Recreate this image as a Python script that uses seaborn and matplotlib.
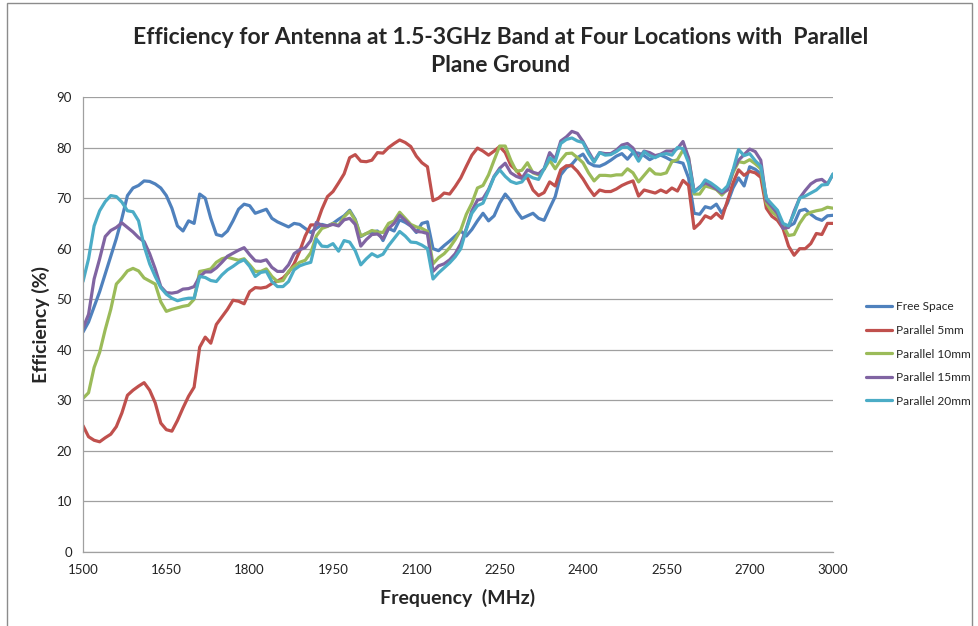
import numpy as np
import pandas as pd
import matplotlib
matplotlib.use("Agg")
import matplotlib.pyplot as plt
import seaborn as sns
from matplotlib.patches import Rectangle

# category axis: 136 sample points, labelled every 15th point
freq = list(range(1500, 2860, 10))
tick_labels = ["1500", "1650", "1800", "1950", "2100", "2250", "2400", "2550", "2700", "3000"]

series_names = ["Free Space", "Parallel 5mm", "Parallel 10mm", "Parallel 15mm", "Parallel 20mm"]

free_space = [43.5, 45.5, 48.5, 51.5, 55, 58.5, 62, 66, 70.5, 72,
              72.5, 73.4, 73.3, 72.8, 72, 70.5, 68, 64.5, 63.5, 65.5,
              65, 70.8, 70, 66, 62.8, 62.5, 63.5, 65.5, 67.8, 68.8,
              68.5, 67, 67.4, 67.8, 66, 65.3, 64.8, 64.3, 65, 64.8,
              64, 63.2, 64, 64.8, 64.5, 65, 65.8, 66.5, 67.6, 65.8,
              62.4, 63, 63.3, 63.5, 61.6, 64, 63.5, 65.7, 65.2, 64.5,
              63.2, 65, 65.3, 60, 59.6, 60.6, 61.5, 62.5, 63.5, 62.5,
              63.8, 65.5, 67, 65.5, 66.5, 69, 70.8, 69.5, 67.5, 66,
              66.5, 67, 66, 65.6, 68, 70.3, 74.6, 76, 76.7, 78,
              78.7, 77, 76.4, 76.3, 76.8, 77.5, 78.3, 78.8, 77.7, 79,
              78.9, 78.4, 77.6, 78.2, 78.5, 78, 77.4, 77.2, 76.9, 74,
              67, 66.8, 68.3, 68, 68.8, 67, 69, 72, 74, 72.4,
              76.2, 75.7, 74.8, 70, 68.3, 67, 64.5, 64.4, 65, 67.5,
              67.8, 66.8, 66, 65.6, 66.5, 66.6]

parallel_5 = [25, 22.8, 22.1, 21.8, 22.6, 23.3, 24.8, 27.5, 31, 32,
              32.8, 33.5, 32, 29.5, 25.5, 24.2, 23.9, 26, 28.5, 30.8,
              32.6, 40.5, 42.5, 41.3, 45, 46.5, 48, 49.8, 49.6, 49.1,
              51.5, 52.3, 52.2, 52.4, 53.1, 53.6, 54.2, 55.3, 57, 59.5,
              62.5, 64.7, 64.7, 67.8, 70.3, 71.3, 73, 74.8, 78, 78.6,
              77.3, 77.2, 77.5, 79, 78.9, 80, 80.8, 81.5, 81, 80.2,
              78.3, 77, 76.2, 69.5, 70, 71, 70.8, 72.3, 74, 76.3,
              78.5, 79.9, 79.3, 78.5, 79.3, 80.2, 79, 76.5, 75.5, 74,
              74, 71.6, 70.5, 71.1, 73.2, 72.4, 75.6, 76.4, 76.4, 75.3,
              73.8, 72, 70.5, 71.6, 71.3, 71.3, 71.8, 72.5, 73, 73.4,
              70.4, 71.6, 71.3, 71, 71.6, 71.1, 72, 71.4, 73.5, 72.5,
              64, 65, 66.5, 66, 67, 66, 69.5, 73, 75.6, 74.5,
              75.3, 75, 74.1, 68, 66.4, 65.6, 64, 60.5, 58.7, 60,
              60, 61, 63, 62.8, 65, 65]

parallel_10 = [30.4, 31.5, 36.5, 39.5, 44, 48, 53, 54.2, 55.6, 56.1,
               55.6, 54.2, 53.6, 53, 49.5, 47.6, 48, 48.3, 48.6, 48.8,
               50, 55.5, 55.7, 56, 57.3, 58, 58.3, 58, 57.7, 58,
               56.8, 55.5, 55.5, 56, 54.5, 53.5, 53.7, 55.5, 56.5, 57.3,
               57.7, 59.2, 62.5, 64, 64.4, 65, 64.6, 66.3, 67.4, 65.6,
               62.5, 63, 63.6, 63.3, 63.2, 65, 65.5, 67.2, 66, 64.8,
               64.3, 64, 63.4, 57, 58.2, 59, 60.2, 61.8, 63.7, 66.8,
               69, 72, 72.5, 74.6, 77.5, 80.3, 80.3, 77.5, 75.3, 75.5,
               77, 75, 74.6, 75.7, 77.5, 75.8, 77.5, 78.8, 78.9, 78,
               77, 75, 73.4, 74.5, 74.5, 74.4, 74.6, 74.6, 75.8, 75,
               73.2, 74.5, 75.8, 74.8, 74.7, 75, 77.2, 77.6, 79.5, 78,
               70.8, 70.8, 72.4, 72.1, 71.7, 70.6, 71.8, 75, 77.2, 77,
               77.6, 76.8, 75.8, 69, 67.3, 66.4, 64.6, 62.6, 62.8, 65,
               66.6, 67.2, 67.5, 67.7, 68.2, 68]

parallel_15 = [44.3, 47, 54, 58, 62.4, 63.6, 64.2, 65.1, 64.2, 63.3,
               62.2, 61.4, 59, 56, 52.5, 51.3, 51.2, 51.4, 52, 52.1,
               52.5, 54.5, 55.4, 55.4, 56.2, 57.3, 58.5, 59.1, 59.7, 60.2,
               58.8, 57.6, 57.5, 57.8, 56.3, 55.5, 55.5, 56.8, 59, 59.8,
               60.2, 61.6, 65.2, 64.6, 64.5, 64.8, 64.5, 65.7, 66, 64.8,
               60.5, 61.8, 62.8, 62.9, 62, 64, 65, 66.6, 65.6, 64.5,
               63.4, 63.3, 63, 55.5, 56.6, 57, 57.8, 59, 61, 64,
               67.5, 69.6, 69.9, 71.7, 74.3, 75.9, 76.9, 75, 74.3, 73.9,
               75.6, 75.1, 74.8, 75.8, 79, 77.7, 81.3, 82.1, 83.2, 82.8,
               81.2, 79.2, 77.3, 79, 78.8, 78.8, 79.5, 80.5, 80.8, 79.9,
               77.8, 79.3, 79, 78.4, 78.7, 79.3, 79.3, 79.8, 81.2, 78,
               71.3, 72.2, 73, 72.5, 71.8, 71, 71.6, 75.5, 77.5, 78.6,
               79.7, 79.2, 77.5, 69.5, 68.3, 67, 64, 64.2, 67.4, 70,
               71.5, 72.8, 73.5, 73.7, 72.8, 74.7]

parallel_20 = [53.5, 58, 64.5, 67.5, 69.3, 70.5, 70.3, 69.2, 67.5, 67.3,
               65.5, 60.5, 57, 54.5, 52.3, 51, 50.2, 49.7, 50, 50.2,
               50.2, 54.5, 54.3, 53.7, 53.5, 54.8, 55.8, 56.5, 57.3, 57.8,
               56.5, 54.5, 55.3, 55.5, 53.5, 52.5, 52.5, 53.5, 55.8, 56.6,
               57, 57.3, 61.9, 60.5, 60.4, 61, 59.5, 61.6, 61.3, 59.6,
               56.8, 58, 59, 58.4, 58.9, 60.6, 62, 63.4, 62.5, 61.3,
               61.2, 60.7, 60, 54, 55.2, 56.2, 57.2, 58.4, 60, 63.8,
               67, 68.5, 69, 71.5, 74.2, 75.6, 74.3, 73.3, 72.9, 73.2,
               74.6, 74, 73.7, 75.8, 78, 77.2, 80.8, 81.6, 81.9, 81.3,
               81, 78.8, 77.1, 79, 78.5, 78.6, 79.2, 80, 80.1, 79.2,
               77.3, 79.2, 78.4, 78, 78.6, 78.8, 78.5, 80, 79.8, 77,
               71.2, 72, 73.6, 73, 72.2, 71.3, 72.4, 75.5, 79.6, 78.4,
               78.8, 77.4, 76.3, 70, 68.8, 67.6, 65, 64.5, 67, 70,
               70.4, 71, 71.6, 72.6, 72.7, 74.8]

colors = ["#4F81BD", "#C0504D", "#9BBB59", "#8064A2", "#4BACC6"]

wide = pd.DataFrame({"Frequency": freq,
                     "Free Space": free_space,
                     "Parallel 5mm": parallel_5,
                     "Parallel 10mm": parallel_10,
                     "Parallel 15mm": parallel_15,
                     "Parallel 20mm": parallel_20})
df = wide.melt(id_vars="Frequency", var_name="Series", value_name="Efficiency")

sns.set_style("white")
plt.rcParams["font.family"] = ["Lato", "DejaVu Sans"]

fig = plt.figure(figsize=(9.79, 6.26), dpi=100)
ax = fig.add_axes([83 / 979, 1 - 552 / 626, 750 / 979, 455 / 626])

sns.lineplot(data=df, x="Frequency", y="Efficiency", hue="Series", hue_order=series_names,
             palette=colors, linewidth=2.3, sort=False, ax=ax)

ax.set_xlim(freq[0], freq[-1])
ax.set_ylim(0, 90)
ax.set_yticks(range(0, 91, 10))
ax.set_xticks(freq[::15])
ax.set_xticklabels(tick_labels)
ax.yaxis.grid(True, color="#a0a0a0", linewidth=0.9)
ax.set_axisbelow(True)
for s in ["top", "right"]:
    ax.spines[s].set_visible(False)
for s in ["left", "bottom"]:
    ax.spines[s].set_color("#a0a0a0")
    ax.spines[s].set_linewidth(0.9)
ax.tick_params(axis="both", length=4, width=0.9, color="#a0a0a0", labelsize=9.5,
               labelcolor="#222222", direction="out")
ax.tick_params(axis="x", pad=5)
ax.tick_params(axis="y", pad=4)

ax.set_xlabel("Frequency  (MHz)", fontsize=14, fontweight="bold", labelpad=9)
ax.set_ylabel("Efficiency (%)", fontsize=14, fontweight="bold", labelpad=5)

fig.text(0.511, 0.918, "Efficiency for Antenna at 1.5-3GHz Band at Four Locations with  Parallel\nPlane Ground",
         ha="center", va="center", fontsize=16.5, fontweight="bold", linespacing=1.4)

handles, labels = ax.get_legend_handles_labels()
ax.legend(handles, labels, loc="center left", bbox_to_anchor=(866 / 979, 1 - 354 / 626),
          bbox_transform=fig.transFigure, frameon=False, fontsize=8.6, handlelength=2.2,
          handletextpad=0.3, labelspacing=1.05, borderpad=0, borderaxespad=0)

# outer chart border
fig.add_artist(Rectangle((7 / 979, -0.05), 965 / 979, 1.05 - 3 / 626, transform=fig.transFigure,
                         fill=False, edgecolor="#8c8c8c", linewidth=1.0, zorder=0))

fig.savefig("out.png", dpi=100)
